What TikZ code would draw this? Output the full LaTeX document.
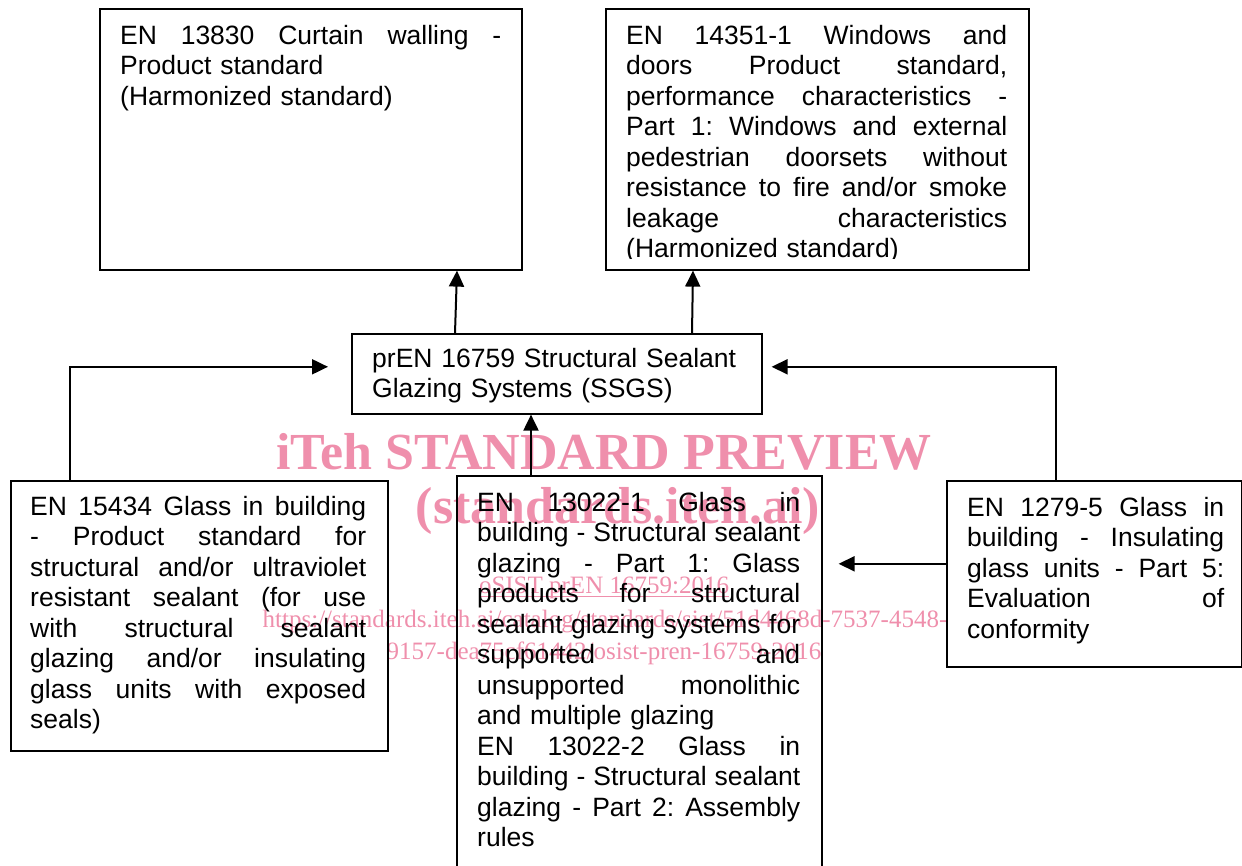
\documentclass[tikz,border=0pt]{standalone}
\usepackage{fontspec}
\setmainfont{Liberation Sans}
\newfontfamily\wmfont{Liberation Serif}
\usetikzlibrary{arrows.meta,calc}

\definecolor{wmpink}{RGB}{239,143,172}

% first-line strut so every text block hangs from a fixed baseline
\newcommand{\fl}{\rule{0pt}{24pt}}
% one fully justified line of a given width
\newcommand{\jl}[2]{\makebox[#1][s]{\spaceskip=0pt\xspaceskip=0pt #2}}

\begin{document}
\begin{tikzpicture}[x=1pt,y=-1pt,
  box/.style={draw, line width=1.6pt, rectangle, inner sep=0pt, anchor=north west},
  txt/.style={anchor=north west, inner sep=0pt,
              font=\fontsize{26.5}{30.5}\selectfont\frenchspacing},
  arr/.style={line width=2pt, -{Triangle[length=16pt,width=15pt]}},
  wmbig/.style={text=wmpink, inner sep=0pt, font=\wmfont\bfseries\fontsize{52}{60}\selectfont},
  wmsmall/.style={text=wmpink, inner sep=0pt, font=\wmfont\fontsize{25}{30}\selectfont}]

\useasboundingbox (0,0) rectangle (1242,865);

% watermark, behind everything
\node[wmbig] (wmA) at (604,452) {iTeh STANDARD PREVIEW};
\node[wmbig] (wmB) at (618,511) {(standards.iteh.ai)};
\node[wmsmall] (wmC) at (604,588) {oSIST prEN 16759:2016};
\draw[wmpink, line width=1.3pt] ([yshift=-3pt]wmC.base west) -- ([yshift=-3pt]wmC.base east);
\node[wmsmall] (wmD) at (605,622) {https://standards.iteh.ai/catalog/standards/sist/51d4468d-7537-4548-};
\node[wmsmall] (wmE) at (604,653) {9157-dea75cf61442/osist-pren-16759-2016};

% frames
\node[box, minimum width=422pt, minimum height=261pt] (A) at (99,8) {};
\node[box, minimum width=423pt, minimum height=261pt] (B) at (605,8) {};
\node[box, minimum width=410pt, minimum height=80pt]  (C) at (351,333) {};
\node[box, minimum width=377pt, minimum height=270pt] (D) at (10,480) {};
\node[box, minimum width=365pt, minimum height=420pt] (E) at (456,475) {};
\node[box, minimum width=295pt, minimum height=186pt] (F) at (946,480) {};

% texts
\node[txt, text width=381pt] (At) at (120,20) {%
\fl\jl{381pt}{EN 13830 Curtain walling -}\\
Product standard\\
(Harmonized standard)};

\begin{scope}
\clip (605,8) rectangle (1028,258);
\node[txt, text width=381pt] (Bt) at (626,20) {%
\fl\jl{381pt}{EN 14351-1 Windows and}\\
\jl{381pt}{doors Product standard,}\\
\jl{381pt}{performance characteristics -}\\
\jl{381pt}{Part 1: Windows and external}\\
\jl{381pt}{pedestrian doorsets without}\\
\jl{381pt}{resistance to fire and/or smoke}\\
\jl{381pt}{leakage characteristics}\\
(Harmonized standard)};
\end{scope}

\node[txt, text width=380pt] (Ct) at (372,343) {%
\fl prEN 16759 Structural Sealant\\
Glazing Systems (SSGS)};

\node[txt, text width=336pt] (Dt) at (30,491) {%
\fl\jl{336pt}{EN 15434 Glass in building}\\
\jl{336pt}{- Product standard for}\\
\jl{336pt}{structural and/or ultraviolet}\\
\jl{336pt}{resistant sealant (for use}\\
\jl{336pt}{with structural sealant}\\
\jl{336pt}{glazing and/or insulating}\\
\jl{336pt}{glass units with exposed}\\
seals)};

\node[txt, text width=323pt] (Et) at (477,487) {%
\fl\jl{323pt}{EN 13022-1 Glass in}\\
\jl{323pt}{building - Structural sealant}\\
\jl{323pt}{glazing - Part 1: Glass}\\
\jl{323pt}{products for structural}\\
\jl{323pt}{sealant glazing systems for}\\
\jl{323pt}{supported and}\\
\jl{323pt}{unsupported monolithic}\\
and multiple glazing\\
\jl{323pt}{EN 13022-2 Glass in}\\
\jl{323pt}{building - Structural sealant}\\
\jl{323pt}{glazing - Part 2: Assembly}\\
rules};

\node[txt, text width=257pt] (Ft) at (967,492) {%
\fl\jl{257pt}{EN 1279-5 Glass in}\\
\jl{257pt}{building - Insulating}\\
\jl{257pt}{glass units - Part 5:}\\
\jl{257pt}{Evaluation of}\\
conformity};

% connector end points
\coordinate (Cl) at ([xshift=-23pt,yshift=7pt]C.west);
\coordinate (Cr) at ([xshift=9pt,yshift=7pt]C.east);
\coordinate (Fo) at ([yshift=10pt]F.west);
\coordinate (Ei) at ([xshift=16pt]E.east |- Fo);

% connectors
\draw[arr] ([xshift=104pt]C.north west) -- ([xshift=358pt]A.south west);
\draw[arr] ([xshift=341pt]C.north west) -- ([xshift=88pt]B.south west);
\draw[arr] ([xshift=75pt]E.north west) -- ([xshift=75pt]E.north west |- C.south);
\draw[arr] ([xshift=60pt]D.north west) |- (Cl);
\draw[arr] ([xshift=110pt]F.north west) |- (Cr);
\draw[arr] (Fo) -- (Ei);

\end{tikzpicture}
\end{document}
